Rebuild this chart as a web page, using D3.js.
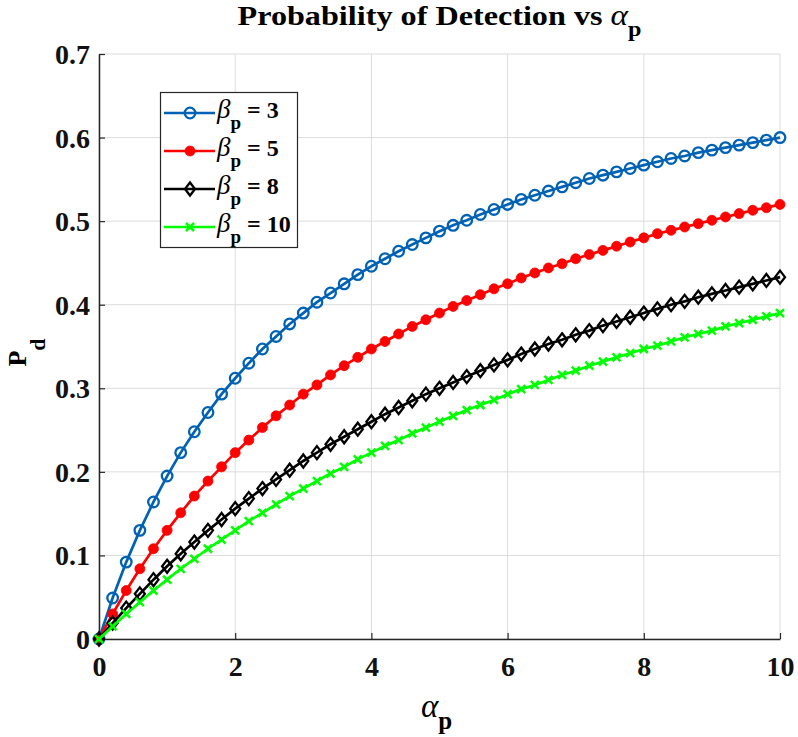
<!DOCTYPE html>
<html><head><meta charset="utf-8">
<script src="https://cdn.jsdelivr.net/npm/d3@7"></script>
<style>body{margin:0;background:#fff;} svg{display:block;} text{font-family:"Liberation Serif","Times New Roman",serif;}</style>
</head><body><svg id="c" width="798" height="737"></svg>
<script>
const alphaP = [0,0.2,0.4,0.6,0.8,1.0,1.2,1.4,1.6,1.8,2.0,2.2,2.4,2.6,2.8,3.0,3.2,3.4,3.6,3.8,4.0,4.2,4.4,4.6,4.8,5.0,5.2,5.4,5.6,5.8,6.0,6.2,6.4,6.6,6.8,7.0,7.2,7.4,7.6,7.8,8.0,8.2,8.4,8.6,8.8,9.0,9.2,9.4,9.6,9.8,10];
const pdBeta3 = [0,0.049,0.092,0.130,0.164,0.195,0.223,0.248,0.271,0.293,0.312,0.330,0.347,0.362,0.377,0.390,0.403,0.414,0.425,0.436,0.446,0.455,0.464,0.472,0.480,0.488,0.495,0.501,0.508,0.514,0.520,0.526,0.531,0.536,0.541,0.546,0.551,0.555,0.559,0.563,0.567,0.571,0.575,0.578,0.582,0.585,0.588,0.591,0.594,0.597,0.600];
const pdBeta5 = [0,0.030,0.058,0.084,0.108,0.130,0.151,0.171,0.189,0.206,0.223,0.238,0.253,0.267,0.280,0.293,0.304,0.316,0.327,0.337,0.347,0.356,0.365,0.374,0.382,0.390,0.398,0.405,0.412,0.419,0.425,0.432,0.438,0.444,0.449,0.455,0.460,0.465,0.470,0.475,0.480,0.485,0.489,0.493,0.497,0.501,0.505,0.509,0.513,0.516,0.520];
const pdBeta8 = [0,0.019,0.037,0.054,0.071,0.087,0.102,0.116,0.130,0.143,0.156,0.168,0.180,0.191,0.202,0.213,0.223,0.233,0.242,0.251,0.260,0.269,0.277,0.285,0.293,0.300,0.307,0.314,0.321,0.328,0.334,0.341,0.347,0.353,0.358,0.364,0.369,0.375,0.380,0.385,0.390,0.395,0.400,0.404,0.409,0.413,0.417,0.421,0.425,0.429,0.433];
const pdBeta10 = [0,0.015,0.030,0.044,0.058,0.071,0.084,0.096,0.108,0.119,0.130,0.141,0.151,0.161,0.171,0.180,0.189,0.198,0.206,0.215,0.223,0.231,0.238,0.246,0.253,0.260,0.267,0.274,0.280,0.286,0.293,0.299,0.304,0.310,0.316,0.321,0.327,0.332,0.337,0.342,0.347,0.351,0.356,0.361,0.365,0.369,0.374,0.378,0.382,0.386,0.390];
const betaLabels = ["3","5","8","10"];
const xTicks = [0,2,4,6,8,10];
const yTicks = [0,0.1,0.2,0.3,0.4,0.5,0.6,0.7];

const series = [
  {b: betaLabels[0], v: pdBeta3, color:"#0062B4", marker:"circle"},
  {b: betaLabels[1], v: pdBeta5, color:"#FF0000", marker:"dot"},
  {b: betaLabels[2], v: pdBeta8, color:"#000000", marker:"diamond"},
  {b: betaLabels[3], v: pdBeta10, color:"#00FF00", marker:"x"}
];

const svg = d3.select("#c");
const L=99, R=780, T=54, B=639;
const x = d3.scaleLinear().domain([0,10]).range([L,R]);
const y = d3.scaleLinear().domain([0,0.7]).range([B,T]);
const font = '"Liberation Serif","Times New Roman",serif';

// grid
const g = svg.append("g");
g.selectAll("line.gx").data(xTicks).join("line")
  .attr("x1",d=>x(d)).attr("x2",d=>x(d)).attr("y1",T).attr("y2",B)
  .attr("stroke","#dcdcdc").attr("stroke-width",1);
g.selectAll("line.gy").data(yTicks).join("line")
  .attr("y1",d=>y(d)).attr("y2",d=>y(d)).attr("x1",L).attr("x2",R)
  .attr("stroke","#dcdcdc").attr("stroke-width",1);

// axes
const xAxis = d3.axisBottom(x).tickValues(xTicks).tickSizeInner(-6).tickSizeOuter(0).tickPadding(14).tickFormat(d3.format("d"));
const yAxis = d3.axisLeft(y).tickValues(yTicks).tickSizeInner(-6).tickSizeOuter(0).tickPadding(9).tickFormat(d=>d===0?"0":d3.format(".1f")(d));
const ax = svg.append("g").attr("transform",`translate(0,${B})`).call(xAxis);
const ay = svg.append("g").attr("transform",`translate(${L},0)`).call(yAxis);
[ax,ay].forEach(a=>{
  a.attr("font-family",null);
  a.select(".domain").attr("stroke","#262626").attr("stroke-width",1.5);
  a.selectAll(".tick line").attr("stroke","#262626").attr("stroke-width",1.2);
  a.selectAll(".tick text").attr("fill","#111").style("font-family",font).style("font-weight","bold").style("font-size","28px");
});
ax.selectAll(".tick text").attr("y",37).attr("dy",0);
ay.selectAll(".tick text").attr("dy","0.34em");

// lines & markers
const line = d3.line().x((d,i)=>x(alphaP[i])).y(d=>y(d));
function drawMarker(sel, m, color){
  if(m==="circle"){
    sel.append("circle").attr("r",5.3).attr("fill","none").attr("stroke",color).attr("stroke-width",2.3);
  } else if(m==="dot"){
    sel.append("circle").attr("r",5).attr("fill",color).attr("stroke",color).attr("stroke-width",0.8);
  } else if(m==="diamond"){
    sel.append("path").attr("d","M0,-6.5L5,0L0,6.5L-5,0Z").attr("fill","none").attr("stroke",color).attr("stroke-width",2.3);
  } else {
    sel.append("path").attr("d","M-4,-4L4,4M-4,4L4,-4").attr("fill","none").attr("stroke",color).attr("stroke-width",2.5);
  }
}
series.forEach(s=>{
  svg.append("path").datum(s.v).attr("d",line).attr("fill","none").attr("stroke",s.color).attr("stroke-width",2.7);
  svg.append("g").selectAll("g").data(s.v).join("g")
    .attr("transform",(d,i)=>`translate(${x(alphaP[i])},${y(d)})`)
    .each(function(){ drawMarker(d3.select(this), s.marker, s.color); });
});

// title
const title = svg.append("text").attr("transform",`translate(${(L+R)/2},25) scale(1.15,1)`).attr("text-anchor","middle")
  .style("font-family",font).style("font-weight","bold").style("font-size","28px").attr("fill","#000");
title.append("tspan").text("Probability of Detection vs ");
title.append("tspan").text("α").style("font-style","italic").style("font-weight","normal").style("font-size","29px");
title.append("tspan").text("p").attr("dy",11).style("font-size","21px");

// x label
const xl = svg.append("text").attr("x",(L+R)/2-3).attr("y",717).attr("text-anchor","middle")
  .style("font-family",font).attr("fill","#000");
xl.append("tspan").text("α").style("font-style","italic").style("font-size","33px");
xl.append("tspan").text("p").attr("dy",12).style("font-size","25px").style("font-weight","bold");

// y label
const yl = svg.append("text").attr("transform",`translate(26,${(T+B)/2+6}) rotate(-90)`).attr("text-anchor","middle")
  .style("font-family",font).style("font-weight","bold").attr("fill","#000");
yl.append("tspan").text("P").style("font-size","26px");
yl.append("tspan").text("d").attr("dy",19).style("font-size","22px");

// legend
const lg = svg.append("g");
lg.append("rect").attr("x",160.5).attr("y",92.5).attr("width",137).attr("height",155)
  .attr("fill","#fff").attr("stroke","#262626").attr("stroke-width",1.2);
series.forEach((s,i)=>{
  const yy = 113 + i*38;
  lg.append("line").attr("x1",164).attr("x2",215).attr("y1",yy).attr("y2",yy).attr("stroke",s.color).attr("stroke-width",2.7);
  drawMarker(lg.append("g").attr("transform",`translate(190,${yy})`), s.marker, s.color);
  const t = lg.append("text").attr("x",217).attr("y",yy+5).style("font-family",font).attr("fill","#000");
  t.append("tspan").text("β").style("font-style","italic").style("font-size","27px");
  t.append("tspan").text("p").attr("dy",11).style("font-size","19px").style("font-weight","bold");
  t.append("tspan").text(" = "+s.b).attr("dy",-11).style("font-size","24px").style("font-weight","bold");
});
</script></body></html>
